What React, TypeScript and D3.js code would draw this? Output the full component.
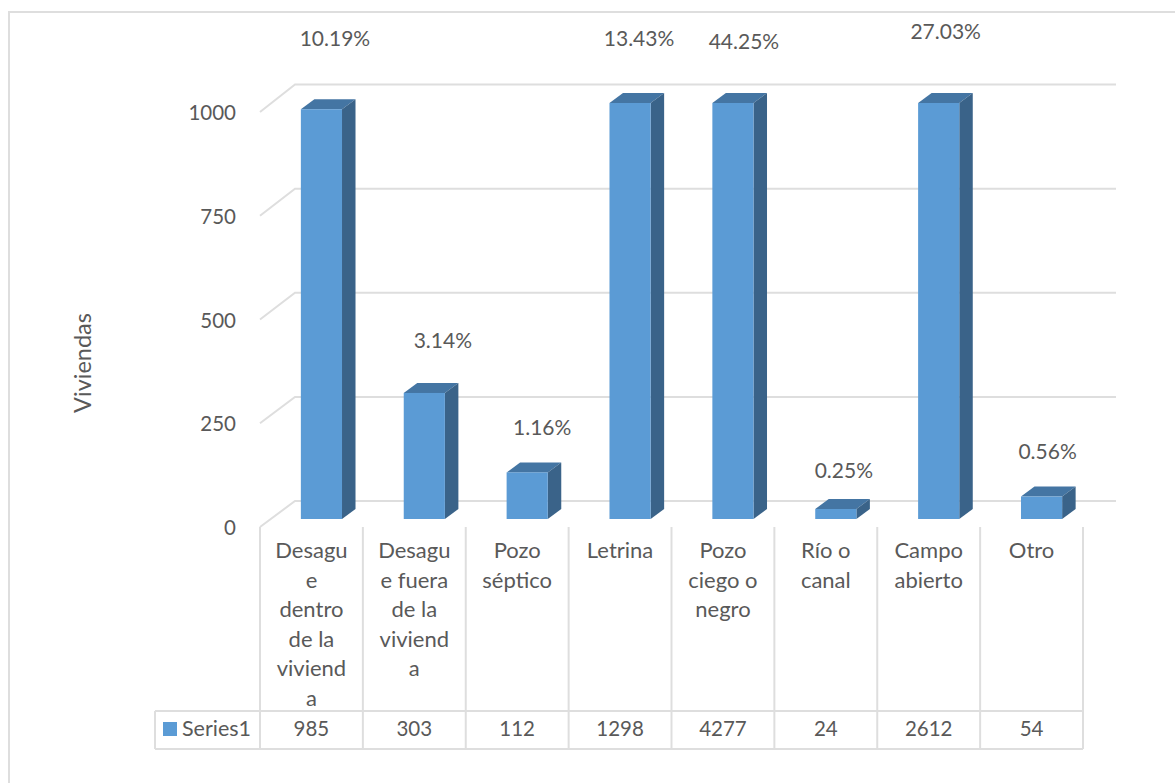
import { scaleBand, scaleLinear } from "d3";

const categories = ["Desague dentro", "Desague fuera", "Pozo séptico", "Letrina", "Pozo ciego", "Río o canal", "Campo abierto", "Otro"];
const categoryLines = [
  ["Desagu", "e", "dentro", "de la", "viviend", "a"],
  ["Desagu", "e fuera", "de la", "viviend", "a"],
  ["Pozo", "séptico"],
  ["Letrina"],
  ["Pozo", "ciego o", "negro"],
  ["Río o", "canal"],
  ["Campo", "abierto"],
  ["Otro"],
];
const values = [985, 303, 112, 1298, 4277, 24, 2612, 54];
const percents = ["10.19%", "3.14%", "1.16%", "13.43%", "44.25%", "0.25%", "27.03%", "0.56%"];
const ticks = [0, 250, 500, 750, 1000];

// layout
const width = 1175;
const height = 783;
const font = "Lato, 'Open Sans', sans-serif";
const textColor = "#595959";
const gridColor = "#dedede";
const depthX = 35; // wall offset
const barDepthX = 13.5;
const barDepthY = 10;
const tableTop = 711;
const tableBottom = 749;
const tableLeft = 155;
const gridRight = 1116;

// manually placed data labels, like in the source chart
const labelDx = [13.5, 18.5, 15, 9, 11, 8, 7, 6];
const labelY = [39, 341, 428, 39, 42, 471, 32, 452];

// bars sit a bit behind the front edge so they are shifted right of the cells
const x = scaleBand<string>().domain(categories).range([270, 1093]).paddingInner(0.6).paddingOuter(0.3);
const y = scaleLinear().domain([0, 1000]).range([519, 103]).clamp(true);
// axis on the front edge of the floor, walls behind it
const yFront = scaleLinear().domain([0, 1000]).range([527, 112]);
const yBack = scaleLinear().domain([0, 1000]).range([501, 84.5]);

const cell = scaleBand<string>().domain(categories).range([260, 1083]);
const frontLeft = cell.range()[0];
const cellRight = cell.range()[1];
const backLeft = frontLeft + depthX;

export default function App() {
  return (
    <svg width={width} height={height} style={{ position: "absolute", left: 0, top: 0, background: "#fff" }} fontFamily={font}>
      {/* picture is cropped, only top and left of the frame show */}
      <path d={`M9,${height}V12H${width}`} fill="none" stroke={gridColor} strokeWidth={2} />

      <text transform="translate(91,363) rotate(-90)" textAnchor="middle" fontSize={23.5} fill={textColor}>Viviendas</text>

      {/* walls */}
      {ticks.map(t => (
        <g key={t}>
          <path
            d={`M${frontLeft},${yFront(t)}L${backLeft},${yBack(t)}H${gridRight}`}
            fill="none"
            stroke={gridColor}
            strokeWidth={2}
          />
          <text x={236} y={yFront(t) + 8} textAnchor="end" fontSize={20.5} fill={textColor}>{t}</text>
        </g>
      ))}

      {/* bars */}
      {categories.map((c, i) => {
        const x0 = x(c) as number;
        const x1 = x0 + x.bandwidth();
        const top = y(values[i]);
        const base = y(0);
        return (
          <g key={c}>
            <path d={`M${x0},${top}l${barDepthX},${-barDepthY}H${x1 + barDepthX}L${x1},${top}Z`} fill="#4475a3" />
            <path d={`M${x1},${top}l${barDepthX},${-barDepthY}V${base - barDepthY}L${x1},${base}Z`} fill="#3a6389" />
            <rect x={x0} y={top} width={x.bandwidth()} height={base - top} fill="#5b9bd5" />
            <text x={x0 + x.bandwidth() / 2 + labelDx[i]} y={labelY[i] + 7} textAnchor="middle" fontSize={21} fill={textColor}>
              {percents[i]}
            </text>
          </g>
        );
      })}

      {/* data table */}
      <g stroke={gridColor} strokeWidth={2} fill="none">
        <path d={`M${tableLeft},${tableTop}H${cellRight}M${tableLeft},${tableBottom}H${cellRight}M${tableLeft},${tableTop}V${tableBottom}`} />
        {categories.map(c => <path key={c} d={`M${cell(c)},${yFront(0)}V${tableBottom}`} />)}
        <path d={`M${cellRight},${yFront(0)}V${tableBottom}`} />
      </g>
      <rect x={163} y={722} width={14} height={14} fill="#5b9bd5" />
      <text x={182} y={736} fontSize={21.5} fill={textColor}>Series1</text>
      {categories.map((c, i) => {
        const cx = (cell(c) as number) + cell.bandwidth() / 2;
        return (
          <g key={c} fill={textColor} textAnchor="middle">
            {categoryLines[i].map((line, j) => (
              <text key={j} x={cx} y={558 + j * 29.5} fontSize={22}>{line}</text>
            ))}
            <text x={cx} y={736} fontSize={20.5}>{values[i]}</text>
          </g>
        );
      })}
    </svg>
  );
}
